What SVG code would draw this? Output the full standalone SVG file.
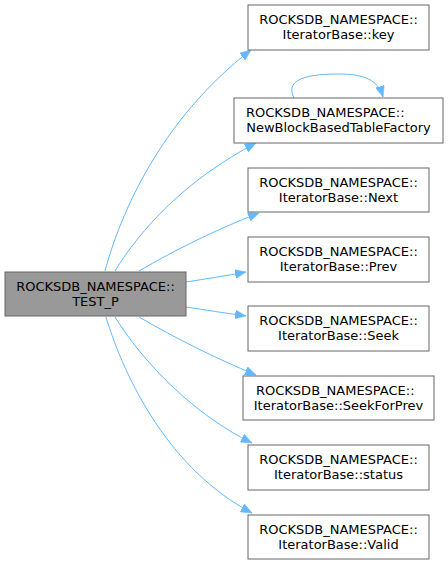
<svg xmlns="http://www.w3.org/2000/svg" width="448" height="565" viewBox="0 0 448 565">
<defs>
<style>
.n rect{fill:#ffffff;stroke:#666666;stroke-width:1}
.m rect{fill:#999999;stroke:#666666;stroke-width:1}
text{font-family:"DejaVu Sans","Liberation Sans",sans-serif;font-size:13px;fill:#000000}
.c{text-anchor:middle}
.s{text-anchor:start}
.e path{fill:none;stroke:#63b8ff;stroke-width:1;marker-end:url(#a)}
</style>
<marker id="a" markerUnits="userSpaceOnUse" markerWidth="12" markerHeight="9" refX="11" refY="4.5" orient="auto">
<path d="M0,0 L11,4.5 L0,9 z" fill="#63b8ff" stroke="#63b8ff" stroke-width="0.5"/>
</marker>
</defs>
<rect width="448" height="565" fill="#ffffff"/>
<g class="e" id="edges">
<path d="M105,271 C120,215 160,120 251,50"/>
<path d="M115,271 C140,230 185,180 256,143"/>
<path d="M139,271 C175,250 215,230 259,213"/>
<path d="M186,282 C205,279 225,276 246,272"/>
<path d="M186,307 C205,310 225,313 246,316"/>
<path d="M139,317 C175,338 215,358 256,375"/>
<path d="M115,317 C145,365 195,415 252,443"/>
<path d="M106,317 C125,380 170,470 252,513"/>
<path d="M294,98 C286,82 300,74 338,74 C365,74 378,80 383,97"/>
</g>
<g class="m" id="test_p"><rect x="5" y="272" width="181" height="44"/><text class="c" x="95.5" y="291">ROCKSDB_NAMESPACE::</text><text class="c" x="95.5" y="306">TEST_P</text></g>
<g class="n" id="key"><rect x="248" y="5" width="181" height="45"/><text class="c" x="338.5" y="24">ROCKSDB_NAMESPACE::</text><text class="c" x="338.5" y="39">IteratorBase::key</text></g>
<g class="n" id="newblock"><rect x="234" y="98" width="209" height="45"/><text class="s" x="246" y="117">ROCKSDB_NAMESPACE::</text><text class="c" x="338.5" y="132">NewBlockBasedTableFactory</text></g>
<g class="n" id="next"><rect x="248" y="168" width="181" height="44"/><text class="c" x="338.5" y="187">ROCKSDB_NAMESPACE::</text><text class="c" x="338.5" y="202">IteratorBase::Next</text></g>
<g class="n" id="prev"><rect x="248" y="237" width="181" height="45"/><text class="c" x="338.5" y="256">ROCKSDB_NAMESPACE::</text><text class="c" x="338.5" y="271">IteratorBase::Prev</text></g>
<g class="n" id="seek"><rect x="248" y="306" width="181" height="45"/><text class="c" x="338.5" y="325">ROCKSDB_NAMESPACE::</text><text class="c" x="338.5" y="340">IteratorBase::Seek</text></g>
<g class="n" id="seekforprev"><rect x="243" y="376" width="191" height="44"/><text class="s" x="256" y="395">ROCKSDB_NAMESPACE::</text><text class="c" x="338.5" y="410">IteratorBase::SeekForPrev</text></g>
<g class="n" id="status"><rect x="248" y="445" width="181" height="45"/><text class="c" x="338.5" y="464">ROCKSDB_NAMESPACE::</text><text class="c" x="338.5" y="479">IteratorBase::status</text></g>
<g class="n" id="valid"><rect x="248" y="515" width="181" height="44"/><text class="c" x="338.5" y="534">ROCKSDB_NAMESPACE::</text><text class="c" x="338.5" y="549">IteratorBase::Valid</text></g>
</svg>
